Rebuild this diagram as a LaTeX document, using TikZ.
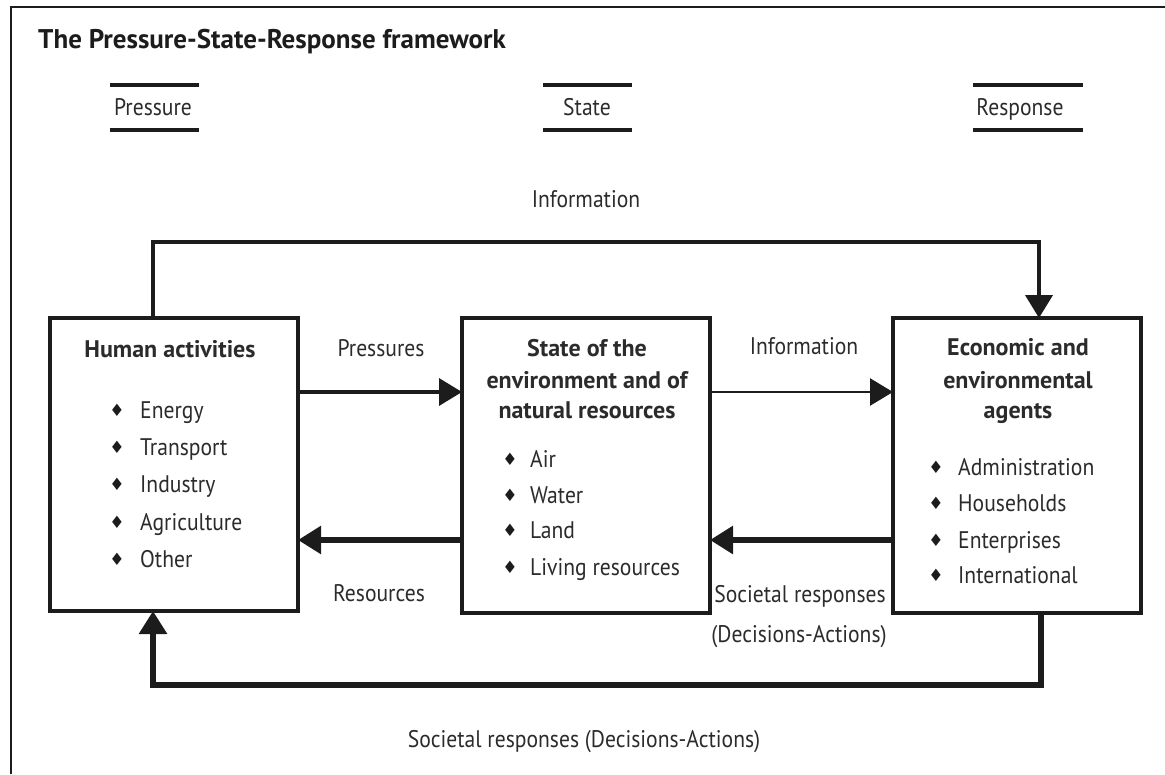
\documentclass[tikz,border=0pt]{standalone}
\usepackage{fontspec}
\setmainfont{PT Sans}[FakeStretch=0.9]
\newfontfamily\headfont{PT Sans}[FakeStretch=1.0]
\newfontfamily\symfont{DejaVu Sans}
\usetikzlibrary{arrows.meta}
\definecolor{ink}{HTML}{1C1C1C}
\definecolor{txt}{HTML}{2B2B2B}
\tikzset{
  frameline/.style={draw=ink, line width=2.5pt},
  rulebar/.style={draw=ink, line width=4pt},
  box/.style={draw=ink, line width=4pt, rectangle, inner sep=0pt, outer sep=0pt,
    minimum width=248pt, fill=white},
  tip/.style={-{Triangle[length=23pt,width=27pt]}},
  lbl/.style={inner sep=0pt, text=txt, anchor=base},
  head/.style={inner sep=0pt, text=txt, anchor=base, font=\headfont\bfseries\fontsize{24}{28}\selectfont},
  item/.style={inner sep=0pt, text=txt, anchor=base west},
  bul/.style={inner sep=0pt, text=ink, anchor=center, font=\symfont\fontsize{17}{17}\selectfont},
}
\begin{document}
\begin{tikzpicture}[x=1pt, y=-1pt, font=\fontsize{24}{28}\selectfont]
\useasboundingbox (0,0) rectangle (1165,774);

% frame (top and left edges)
\draw[frameline] (11,774) -- (11,7) -- (1165,7);

% title
\node[inner sep=0pt, anchor=base west, text=ink, font=\headfont\bfseries\fontsize{27}{32}\selectfont]
  (title) at (38,48) {The Pressure-State-Response framework};

% column headings with rules above and below
\node[lbl] (hP) at (153,115) {Pressure};
\node[lbl] (hS) at (587,115) {State};
\node[lbl] (hR) at (1020,115) {Response};
\draw[rulebar] (110,85) -- (199,85);  \draw[rulebar] (110,130) -- (199,130);
\draw[rulebar] (543,85) -- (632,85);  \draw[rulebar] (543,130) -- (632,130);
\draw[rulebar] (973,85) -- (1083,85); \draw[rulebar] (973,130) -- (1083,130);

% the three boxes
\node[box, minimum height=293pt] (hum) at (174,464.5) {};
\node[box, minimum height=295pt] (sta) at (586,465.5) {};
\node[box, minimum height=295pt] (eco) at (1017,465.5) {};

% box contents
\node[head] (humT) at (170,357) {Human activities};
\foreach \t/\y [count=\i] in {Energy/418, Transport/455, Industry/492, Agriculture/530, Other/567}{
  \node[bul] (hb\i) at (117,\y-8) {♦};
  \node[item] (hi\i) at (140,\y) {\t};
}

\node[head] (staT1) at (587,356) {State of the};
\node[head] (staT2) at (587,388) {environment and of};
\node[head] (staT3) at (587,418) {natural resources};
\foreach \t/\y [count=\i] in {Air/467, Water/503, Land/538, Living resources/575}{
  \node[bul] (sb\i) at (510,\y-8) {♦};
  \node[item] (si\i) at (530,\y) {\t};
}

\node[head] (ecoT1) at (1018,355) {Economic and};
\node[head] (ecoT2) at (1018,388) {environmental};
\node[head] (ecoT3) at (1018,418) {agents};
\foreach \t/\y [count=\i] in {Administration/475, Households/511, Enterprises/548, International/583}{
  \node[bul] (eb\i) at (936,\y-8) {♦};
  \node[item] (ei\i) at (958,\y) {\t};
}

% loop anchors
\coordinate (hTop) at ([xshift=-21pt]hum.north);
\coordinate (eTop) at ([xshift=22pt]eco.north);
\coordinate (hBot) at ([xshift=-21pt]hum.south);
\coordinate (eBot) at ([xshift=24pt]eco.south);
\coordinate (hR1) at (hum.east |- 0,392);
\coordinate (sL1) at (sta.west |- 0,392);
\coordinate (sR1) at (sta.east |- 0,392);
\coordinate (eL1) at (eco.west |- 0,392);
\coordinate (hR2) at (hum.east |- 0,540);
\coordinate (sL2) at (sta.west |- 0,540);
\coordinate (sR2) at (sta.east |- 0,540);
\coordinate (eL2) at (eco.west |- 0,540);

% connectors
\draw[ink, line width=4pt, tip] (hTop) -- ++(0,-76) -| (eTop);
\draw[ink, line width=3.5pt, tip] (hR1) -- (sL1);
\draw[ink, line width=2.5pt, tip] (sR1) -- (eL1);
\draw[ink, line width=5.5pt, tip] (sL2) -- (hR2);
\draw[ink, line width=6pt, tip] (eL2) -- (sR2);
\draw[ink, line width=6pt, tip] (eBot) -- ++(0,72) -| (hBot);

% connector labels
\node[lbl] (lInfoTop) at (586,207) {Information};
\node[lbl] (lPress) at (381,356) {Pressures};
\node[lbl] (lInfo) at (804,354) {Information};
\node[lbl] (lRes) at (379,601) {Resources};
\node[lbl] (lSoc1) at (800,602) {Societal responses};
\node[lbl] (lSoc2) at (799,642) {(Decisions-Actions)};
\node[lbl] (lSocB) at (584,747) {Societal responses (Decisions-Actions)};
\end{tikzpicture}
\end{document}
